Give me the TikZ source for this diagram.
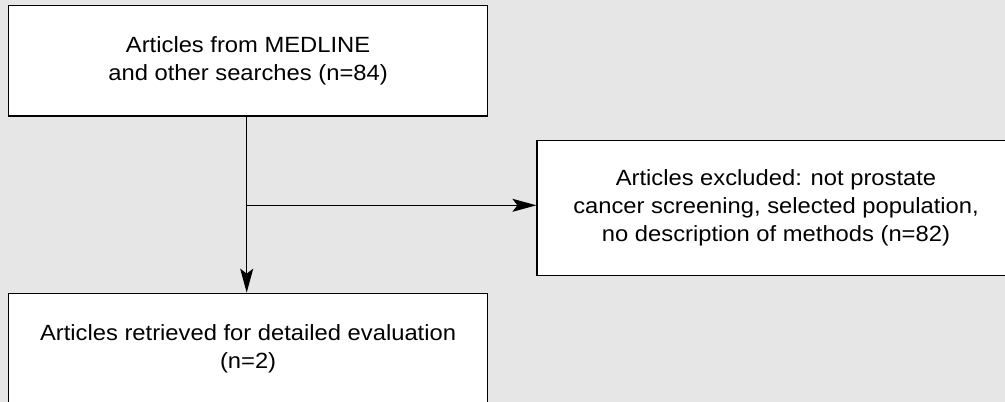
\documentclass[tikz,border=0pt]{standalone}
\usepackage{fontspec}
\setmainfont{Liberation Sans}[FakeStretch=1.08]
\usetikzlibrary{arrows.meta}
\definecolor{bggray}{HTML}{E6E6E6}
\tikzset{
  box/.style={draw=black, line width=1.2pt, fill=white, inner sep=0pt, align=center,
    font=\fontsize{22}{27.7}\selectfont},
  conn/.style={line width=1.2pt, -{Stealth[length=24pt,width=13pt,inset=5pt]}}
}
\begin{document}
\begin{tikzpicture}[x=1pt,y=-1pt]
\useasboundingbox (0,0) rectangle (1005,402);
\clip (0,0) rectangle (1005,402);
\fill[bggray] (0,0) rectangle (1005,402);
\node[box, minimum width=479pt, minimum height=110.5pt] (b1) at (248.1,60.7)
  {Articles from MEDLINE\\and other searches (n=84)};
\node[box, minimum width=478pt, minimum height=134.6pt] (b2) at (776,208)
  {Articles excluded: not prostate\\cancer screening, selected population,\\no description of methods (n=82)};
\node[box, minimum width=479pt, minimum height=110.5pt] (b3) at (248.1,348.5)
  {Articles retrieved for detailed evaluation\\(n=2)};
\coordinate (j) at (246.7,205.3);
\draw[conn] (b1.south -| j) -- (b3.north -| j);
\draw[conn] (j) -- (j -| b2.west);
\end{tikzpicture}
\end{document}
